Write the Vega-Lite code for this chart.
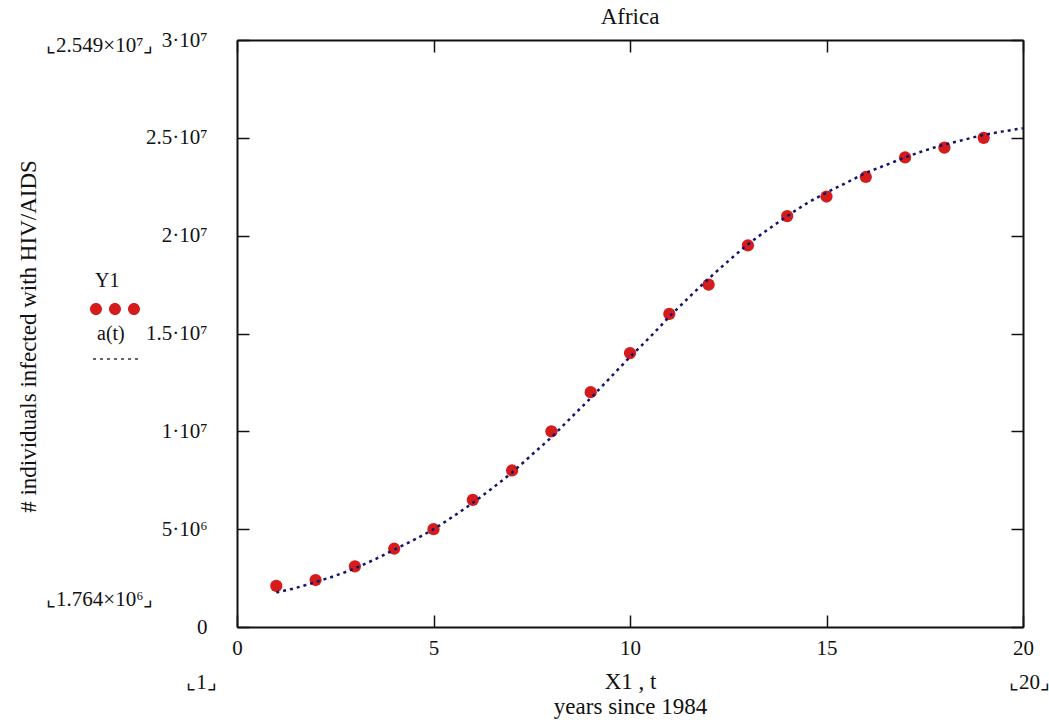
{
  "$schema": "https://vega.github.io/schema/vega-lite/v6.json",
  "width": 786,
  "height": 587,
  "autosize": {"type": "none"},
  "padding": {"left": 237, "top": 40, "right": 26, "bottom": 97},
  "background": "white",
  "title": {"text": "Africa", "font": "Liberation Serif", "fontSize": 23, "fontWeight": "normal", "color": "#111", "offset": 0},
  "config": {
    "view": {"stroke": null},
    "axis": {"labelFont": "Liberation Serif", "labelFontSize": 21, "labelColor": "#111", "titleFont": "Liberation Serif", "titleFontSize": 23, "titleFontWeight": "normal", "titleColor": "#111", "grid": false, "domainColor": "#111", "domainWidth": 2, "tickColor": "#111", "tickWidth": 1.5, "labelFlush": false, "labelOverlap": false},
    "legend": {"labelFont": "Liberation Serif", "labelFontSize": 20, "labelColor": "#111", "title": null, "padding": 0, "rowPadding": 0, "labelOffset": -45, "labelBaseline": "middle", "symbolSize": 2500, "orient": "none"}
  },
  "datasets": {
    "observed": [
      {"t": 1, "value": 2100000, "series": "Y1"},
      {"t": 2, "value": 2400000, "series": "Y1"},
      {"t": 3, "value": 3100000, "series": "Y1"},
      {"t": 4, "value": 4000000, "series": "Y1"},
      {"t": 5, "value": 5000000, "series": "Y1"},
      {"t": 6, "value": 6500000, "series": "Y1"},
      {"t": 7, "value": 8000000, "series": "Y1"},
      {"t": 8, "value": 10000000, "series": "Y1"},
      {"t": 9, "value": 12000000, "series": "Y1"},
      {"t": 10, "value": 14000000, "series": "Y1"},
      {"t": 11, "value": 16000000, "series": "Y1"},
      {"t": 12, "value": 17500000, "series": "Y1"},
      {"t": 13, "value": 19500000, "series": "Y1"},
      {"t": 14, "value": 21000000, "series": "Y1"},
      {"t": 15, "value": 22000000, "series": "Y1"},
      {"t": 16, "value": 23000000, "series": "Y1"},
      {"t": 17, "value": 24000000, "series": "Y1"},
      {"t": 18, "value": 24500000, "series": "Y1"},
      {"t": 19, "value": 25000000, "series": "Y1"}
    ],
    "model": [
      {"t": 1, "value": 1764000, "series": "a(t)"},
      {"t": 1.5, "value": 2000000, "series": "a(t)"},
      {"t": 2, "value": 2300000, "series": "a(t)"},
      {"t": 2.5, "value": 2620000, "series": "a(t)"},
      {"t": 3, "value": 3000000, "series": "a(t)"},
      {"t": 3.5, "value": 3450000, "series": "a(t)"},
      {"t": 4, "value": 3950000, "series": "a(t)"},
      {"t": 4.5, "value": 4450000, "series": "a(t)"},
      {"t": 5, "value": 5000000, "series": "a(t)"},
      {"t": 5.5, "value": 5650000, "series": "a(t)"},
      {"t": 6, "value": 6350000, "series": "a(t)"},
      {"t": 6.5, "value": 7100000, "series": "a(t)"},
      {"t": 7, "value": 7900000, "series": "a(t)"},
      {"t": 7.5, "value": 8800000, "series": "a(t)"},
      {"t": 8, "value": 9700000, "series": "a(t)"},
      {"t": 8.5, "value": 10700000, "series": "a(t)"},
      {"t": 9, "value": 11700000, "series": "a(t)"},
      {"t": 9.5, "value": 12750000, "series": "a(t)"},
      {"t": 10, "value": 13800000, "series": "a(t)"},
      {"t": 10.5, "value": 14800000, "series": "a(t)"},
      {"t": 11, "value": 15850000, "series": "a(t)"},
      {"t": 11.5, "value": 16850000, "series": "a(t)"},
      {"t": 12, "value": 17800000, "series": "a(t)"},
      {"t": 12.5, "value": 18700000, "series": "a(t)"},
      {"t": 13, "value": 19550000, "series": "a(t)"},
      {"t": 13.5, "value": 20300000, "series": "a(t)"},
      {"t": 14, "value": 21000000, "series": "a(t)"},
      {"t": 14.5, "value": 21650000, "series": "a(t)"},
      {"t": 15, "value": 22200000, "series": "a(t)"},
      {"t": 15.5, "value": 22700000, "series": "a(t)"},
      {"t": 16, "value": 23200000, "series": "a(t)"},
      {"t": 16.5, "value": 23600000, "series": "a(t)"},
      {"t": 17, "value": 24000000, "series": "a(t)"},
      {"t": 17.5, "value": 24350000, "series": "a(t)"},
      {"t": 18, "value": 24650000, "series": "a(t)"},
      {"t": 18.5, "value": 24900000, "series": "a(t)"},
      {"t": 19, "value": 25150000, "series": "a(t)"},
      {"t": 19.5, "value": 25330000, "series": "a(t)"},
      {"t": 20, "value": 25490000, "series": "a(t)"}
    ]
  },
  "resolve": {"axis": {"x": "independent", "y": "independent"}},
  "layer": [
    {
      "data": {"name": "observed"},
      "mark": {"type": "point", "filled": true, "size": 150, "opacity": 1},
      "encoding": {
        "x": {"field": "t", "type": "quantitative", "scale": {"domain": [0, 20], "nice": false, "zero": false},
          "axis": {"orient": "bottom", "values": [0, 5, 10, 15, 20], "tickSize": -12, "labelPadding": 22,
            "title": ["X1 , t", "years since 1984"], "titleLineHeight": 25, "titleBaseline": "top", "titleY": 43, "titleX": 393, "titleAlign": "center"}},
        "y": {"field": "value", "type": "quantitative", "scale": {"domain": [0, 30000000], "nice": false, "zero": false},
          "axis": {"orient": "left", "values": [0, 5000000, 10000000, 15000000, 20000000, 25000000, 30000000], "tickSize": -12, "labelPadding": 42,
            "labelExpr": "datum.value == 0 ? '0' : datum.value == 5000000 ? '5·10⁶' : datum.value == 10000000 ? '1·10⁷' : datum.value == 15000000 ? '1.5·10⁷' : datum.value == 20000000 ? '2·10⁷' : datum.value == 25000000 ? '2.5·10⁷' : '3·10⁷'",
            "title": "# individuals infected with HIV/AIDS", "titleX": -209, "titleY": 296, "titleAngle": -90, "titleAlign": "center", "titleBaseline": "middle"}},
        "color": {"field": "series", "type": "nominal",
          "scale": {"domain": ["Y1"], "range": ["#d41c1c"]},
          "legend": {"legendX": -147, "legendY": 216,
            "symbolType": "M-1,1.12a0.24,0.24 0 1,0 0.48,0a0.24,0.24 0 1,0 -0.48,0ZM-0.24,1.12a0.24,0.24 0 1,0 0.48,0a0.24,0.24 0 1,0 -0.48,0ZM0.52,1.12a0.24,0.24 0 1,0 0.48,0a0.24,0.24 0 1,0 -0.48,0Z",
            "symbolStrokeWidth": 0}}
      }
    },
    {
      "data": {"name": "model"},
      "mark": {"type": "line", "strokeWidth": 2.5, "interpolate": "monotone", "color": "#14146e"},
      "encoding": {
        "x": {"field": "t", "type": "quantitative", "axis": {"orient": "top", "values": [0, 5, 10, 15, 20], "tickSize": -12, "labels": false, "title": null}},
        "y": {"field": "value", "type": "quantitative", "axis": {"orient": "right", "values": [0, 5000000, 10000000, 15000000, 20000000, 25000000, 30000000], "tickSize": -12, "labels": false, "title": null}},
        "strokeDash": {"field": "series", "type": "nominal",
          "scale": {"domain": ["a(t)"], "range": [[3, 4]]},
          "legend": {"legendX": -147, "legendY": 268, "symbolType": "M-0.92,1H0.96", "symbolStrokeColor": "#333333", "symbolStrokeWidth": 1.5, "symbolFillColor": "transparent"}}
      }
    },
    {
      "data": {"values": []},
      "mark": {"type": "point"},
      "encoding": {
        "x": {"field": "t", "type": "quantitative", "axis": {"orient": "bottom", "offset": 40, "domain": false, "ticks": false, "labelPadding": 4, "values": [0, 20], "title": null,
          "labelExpr": "datum.value == 0 ? '⌞1⌟' : '⌞20⌟'",
          "labelOffset": {"condition": {"test": "datum.value == 0", "value": -36}, "value": 6}}},
        "y": {"field": "value", "type": "quantitative", "axis": {"orient": "left", "offset": 80, "domain": false, "ticks": false, "labelPadding": 4, "values": [1380000, 29700000], "title": null,
          "labelExpr": "datum.value < 10000000 ? '⌞1.764×10⁶⌟' : '⌞2.549×10⁷⌟'"}}
      }
    }
  ]
}
